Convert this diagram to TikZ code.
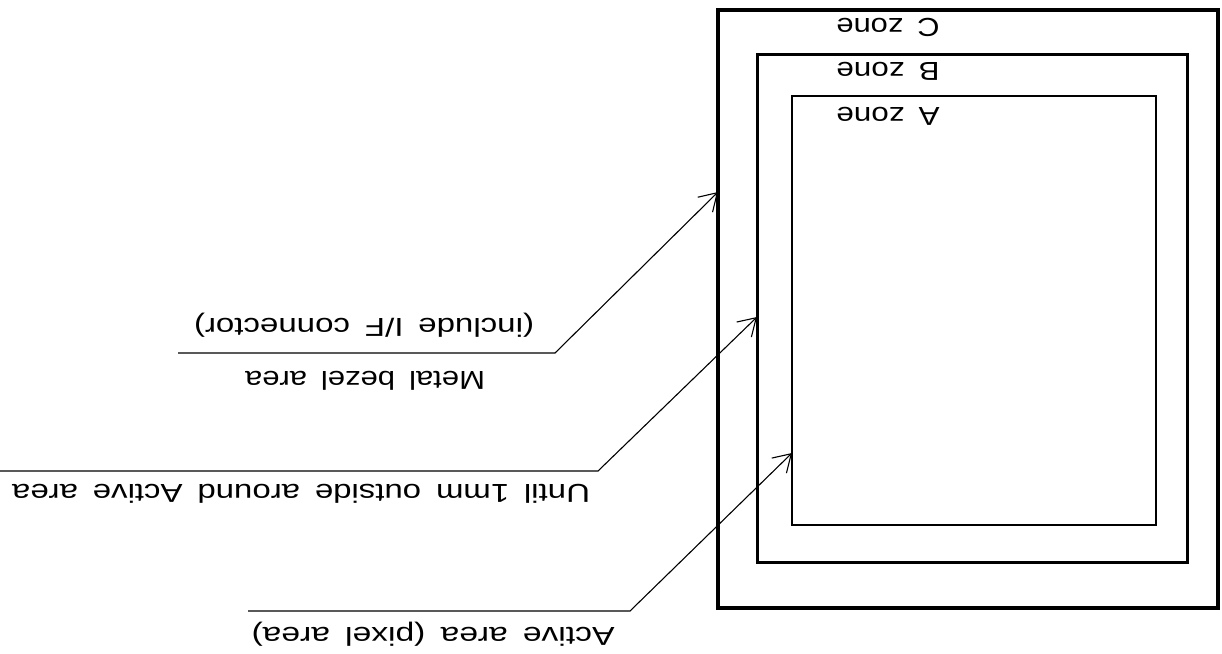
\documentclass[tikz,border=0pt]{standalone}
\usepackage{fontspec}
\setmainfont{Liberation Sans}
\usetikzlibrary{arrows.meta}
\newcommand{\hfit}[2]{\resizebox{#1pt}{\height}{#2}}
\begin{document}
\begin{tikzpicture}[x=1pt,y=-1pt,
  zone/.style={draw, inner sep=0pt, outer sep=0pt},
  lbl/.style={rotate=180, inner sep=0pt, font={\fontsize{26}{30}\selectfont\spaceskip=0.45em\relax}},
  ptr/.style={line width=1.1pt, -{Straight Barb[length=17pt,width=21pt]}}
]
\useasboundingbox (0,0) rectangle (1222,653);
\fill[white] (0,0) rectangle (1222,653);
% zones
\node[zone, line width=3.5pt, minimum width=500pt, minimum height=598pt] (C) at (968,309) {};
\node[zone, line width=3pt, minimum width=430pt, minimum height=508pt] (B) at (972,308) {};
\node[zone, line width=2pt, minimum width=364pt, minimum height=429pt] (A) at (974,310.5) {};
% zone labels
\node[lbl] (lC) at (888,27) {\hfit{103}{C zone}};
\node[lbl] (lB) at (888,71) {\hfit{103}{B zone}};
\node[lbl] (lA) at (888,116) {\hfit{103}{A zone}};
% leader coordinates
\coordinate (s1) at (178,353);
\coordinate (k1) at (555,353);
\coordinate (t1) at (C.west |- 0,192);
\coordinate (s2) at (0,471);
\coordinate (k2) at (598,471);
\coordinate (t2) at (B.west |- 0,317);
\coordinate (s3) at (248,611);
\coordinate (k3) at (630,611);
\coordinate (t3) at (A.west |- 0,453);
\draw[ptr] (s1) -- (k1) -- (t1);
\draw[ptr] (s2) -- (k2) -- (t2);
\draw[ptr] (s3) -- (k3) -- (t3);
% leader labels
\node[lbl] (m1) at (364,325) {\hfit{340}{(include I/F connector)}};
\node[lbl] (m2) at (365,381) {\hfit{240}{Metal bezel area}};
\node[lbl] (m3) at (301,494) {\hfit{578}{Until 1mm outside around Active area}};
\node[lbl] (m4) at (433,634) {\hfit{363}{Active area (pixel area)}};
\end{tikzpicture}
\end{document}
